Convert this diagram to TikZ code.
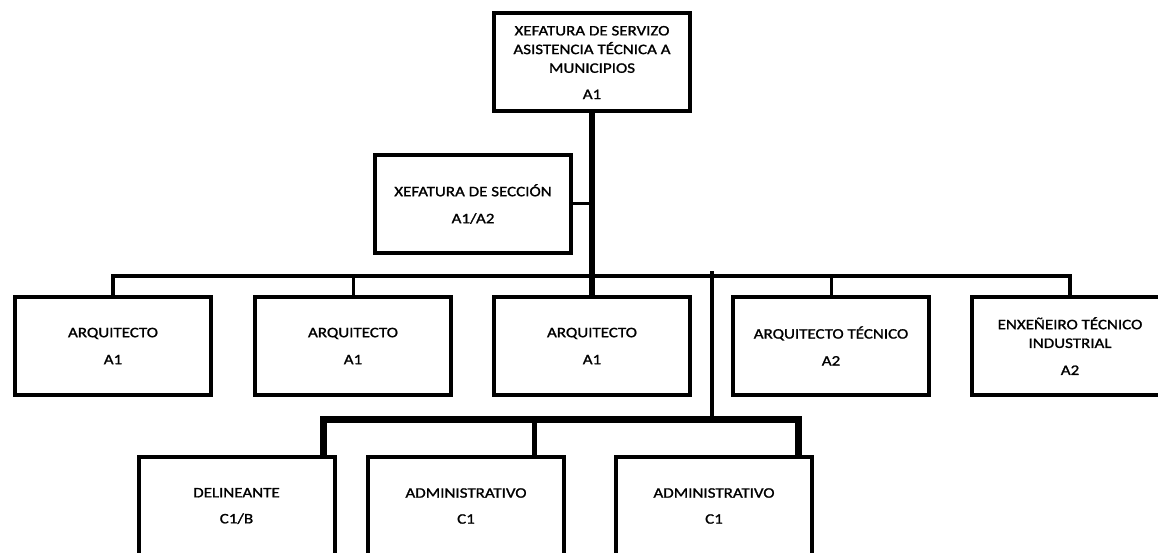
\documentclass[tikz,border=0pt]{standalone}
\usepackage{fontspec}
\usepackage{tikz}
\newfontfamily\orgfont[FakeStretch=1.17,FakeBold=1.3]{Carlito}

\begin{document}
\begin{tikzpicture}[x=1pt,y=-1pt,
	box/.style={draw,line width=4pt,minimum width=196pt,minimum height=98pt,inner sep=0pt,align=center,
		font=\orgfont\fontsize{14.5}{18.7}\selectfont},
	thin link/.style={line width=3pt},
	link/.style={line width=4pt},
	fat link/.style={line width=7pt}]
					\clip (0,0) rectangle (1158,553);
							\node[box] (xefe) at (592,62.5) {XEFATURA DE SERVIZO\\ASISTENCIA TÉCNICA A\\MUNICIPIOS\\[7.5pt]A1};
							\node[box] (seccion) at (473,204) {XEFATURA DE SECCIÓN\\[8.3pt]A1/A2};
							\node[box] (arq1) at (113,346) {ARQUITECTO\\[8.3pt]A1};
							\node[box] (arq2) at (353,346) {ARQUITECTO\\[8.3pt]A1};
							\node[box] (arq3) at (592,346) {ARQUITECTO\\[8.3pt]A1};
							\node[box] (arqtec) at (831,346) {ARQUITECTO TÉCNICO\\[8.3pt]A2};
							\node[box] (enx) at (1070,346) {ENXEÑEIRO TÉCNICO\\INDUSTRIAL\\[8.3pt]A2};
							\node[box] (delin) at (236.5,506) {DELINEANTE\\[7.3pt]C1/B};
							\node[box] (admin1) at (466,506) {ADMINISTRATIVO\\[7.3pt]C1};
							\node[box] (admin2) at (714,506) {ADMINISTRATIVO\\[7.3pt]C1};
					\coordinate (bar) at (592,276);
					\coordinate (split) at (712,271);
					\coordinate (bar2) at (712,419);
					\draw[line width=5.5pt] (xefe.south) -- (xefe.south |- arq3.north);
					\draw[thin link] (seccion.east) -- (seccion.east -| xefe.south);
					\draw[link] (arq1.north) |- (bar) -| (enx.north);
					\draw[thin link] (arq2.north) -- (arq2.north |- bar);
					\draw[thin link] (arqtec.north) -- (arqtec.north |- bar);
					\draw[link] (split) -- (bar2);
					\draw[fat link] ([xshift=-13pt]delin.north east) |- (bar2) -| ([xshift=-16pt]admin2.north east);
					\draw[line width=5pt] ([xshift=-32pt]admin1.north east) -- ([xshift=-32pt]admin1.north east |- bar2);
						\end{tikzpicture}
\end{document}
